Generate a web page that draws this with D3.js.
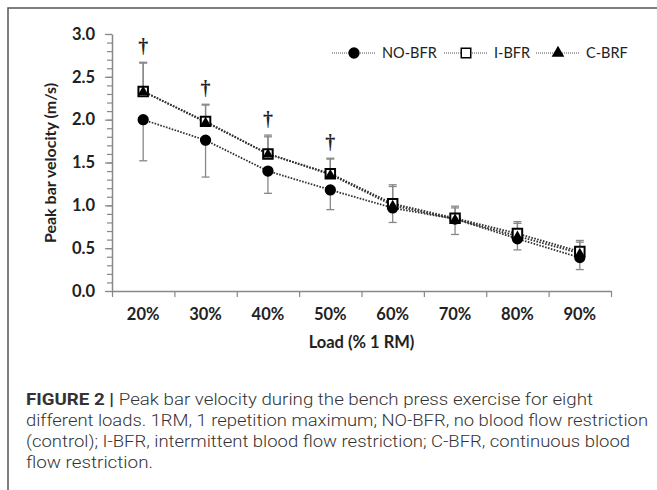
<!DOCTYPE html>
<html>
<head>
<meta charset="utf-8">
<script src="https://cdn.jsdelivr.net/npm/d3@7"></script>
<style>
  body { margin: 0; background: #fff; }
  .tick text { font-family: Lato, "Open Sans", sans-serif; font-weight: 700; font-size: 16.5px; fill: #222; }
</style>
</head>
<body>
<script>
//data
var loads = ["20%", "30%", "40%", "50%", "60%", "70%", "80%", "90%"];
var noBfr = [2.00, 1.76, 1.40, 1.18, 0.97, 0.84, 0.61, 0.39];
var noBfrLow = [1.52, 1.33, 1.14, 0.95, 0.80, 0.66, 0.48, 0.25]; //mean - SD
var iBfr = [2.33, 1.98, 1.60, 1.37, 1.02, 0.85, 0.67, 0.46];
var iBfrHigh = [2.67, 2.18, 1.82, 1.55, 1.24, 0.99, 0.81, 0.59]; //mean + SD
var cBrf = [2.33, 1.97, 1.60, 1.36, 1.00, 0.84, 0.64, 0.44];
var cBrfHigh = [2.66, 2.17, 1.80, 1.54, 1.22, 0.97, 0.79, 0.57];
var dagger = [true, true, true, true, false, false, false, false];
var yMajor = [0, 0.5, 1.0, 1.5, 2.0, 2.5, 3.0];
var seriesNames = ["NO-BFR", "I-BFR", "C-BRF"];

var w = 657, h = 490;

var svg = d3.select("body")
    .append("svg")
    .attr("width", w)
    .attr("height", h);

//frame (top and left edges only)
svg.append("path")
    .attr("d", "M8,490V8H657")
    .attr("fill", "none")
    .attr("stroke", "#555")
    .attr("stroke-width", 1.5);

var x = d3.scaleBand()
    .domain(loads)
    .range([112, 611]);

var xEdge = d3.scaleLinear()
    .domain([0, loads.length])
    .range([112, 611]);

var y = d3.scaleLinear()
    .domain([0, 3])
    .range([291, 34]);

var cx = function(i){ return x(loads[i]) + x.bandwidth() / 2; };

//minor y ticks
svg.append("g")
    .attr("class", "minor")
    .attr("transform", "translate(112,0)")
    .call(d3.axisLeft(y).tickValues(d3.range(0, 31).map(function(d){ return d / 10; })).tickSize(5).tickFormat(""))
    .call(function(g){ g.select(".domain").remove(); })
    .selectAll("line").attr("stroke", "#888").attr("stroke-width", 1.2);

//major y axis
svg.append("g")
    .attr("transform", "translate(112,0)")
    .call(d3.axisLeft(y).tickValues(yMajor).tickFormat(d3.format(".1f")).tickSize(7).tickPadding(10).tickSizeOuter(0))
    .call(function(g){
        g.select(".domain").attr("stroke", "#888").attr("stroke-width", 1.5);
        g.selectAll("line").attr("stroke", "#888").attr("stroke-width", 1.2);
    });

//x axis: edge ticks
svg.append("g")
    .attr("transform", "translate(0,291)")
    .call(d3.axisBottom(xEdge).ticks(loads.length).tickSize(6).tickFormat("").tickSizeOuter(0))
    .call(function(g){
        g.select(".domain").attr("stroke", "#888").attr("stroke-width", 1.5);
        g.selectAll("line").attr("stroke", "#888").attr("stroke-width", 1.2);
    });

//x labels
svg.append("g")
    .attr("transform", "translate(0,291)")
    .call(d3.axisBottom(x).tickSize(0).tickPadding(17))
    .call(function(g){ g.select(".domain").remove(); });

//axis titles
svg.append("text")
    .attr("x", 361.5)
    .attr("y", 348)
    .attr("text-anchor", "middle")
    .style("font-family", "Lato, sans-serif")
    .style("font-weight", 700)
    .style("font-size", "16.5px")
    .style("fill", "#222")
    .text("Load (% 1 RM)");

svg.append("text")
    .attr("transform", "translate(56,163) rotate(-90)")
    .attr("text-anchor", "middle")
    .style("font-family", "Lato, sans-serif")
    .style("font-weight", 700)
    .style("font-size", "16px")
    .style("fill", "#222")
    .text("Peak bar velocity (m/s)");

//error bars
function errorBars(mean, end){
    var g = svg.append("g")
        .attr("stroke", "#888")
        .attr("stroke-width", 1.3);
    mean.forEach(function(m, i){
        g.append("line")
            .attr("x1", cx(i)).attr("x2", cx(i))
            .attr("y1", y(m)).attr("y2", y(end[i]));
        g.append("line")
            .attr("x1", cx(i) - 4).attr("x2", cx(i) + 4)
            .attr("y1", y(end[i])).attr("y2", y(end[i]));
    });
}
errorBars(noBfr, noBfrLow);
errorBars(iBfr, iBfrHigh);
errorBars(cBrf, cBrfHigh);

//dotted lines
var line = d3.line()
    .x(function(d, i){ return cx(i); })
    .y(function(d){ return y(d); });

[noBfr, iBfr, cBrf].forEach(function(s){
    svg.append("path")
        .datum(s)
        .attr("d", line)
        .attr("fill", "none")
        .attr("stroke", "#333")
        .attr("stroke-width", 1.8)
        .attr("stroke-dasharray", "1.6,1.4");
});

//markers
var sym = {
    circle: d3.symbol().type(d3.symbolCircle).size(100),
    square: d3.symbol().type(d3.symbolSquare).size(90),
    triangle: d3.symbol().type(d3.symbolTriangle).size(48)
};

svg.selectAll(".noMark")
    .data(noBfr)
    .enter()
    .append("path")
    .attr("class", "noMark")
    .attr("transform", function(d, i){ return "translate(" + cx(i) + "," + y(d) + ")"; })
    .attr("d", sym.circle)
    .attr("fill", "#000");

svg.selectAll(".iMark")
    .data(iBfr)
    .enter()
    .append("path")
    .attr("class", "iMark")
    .attr("transform", function(d, i){ return "translate(" + cx(i) + "," + y(d) + ")"; })
    .attr("d", sym.square)
    .attr("fill", "#fff")
    .attr("stroke", "#000")
    .attr("stroke-width", 2);

svg.selectAll(".cMark")
    .data(cBrf)
    .enter()
    .append("path")
    .attr("class", "cMark")
    .attr("transform", function(d, i){ return "translate(" + cx(i) + "," + (y(d) + 0.5) + ")"; })
    .attr("d", sym.triangle)
    .attr("fill", "#000");

//significance daggers
svg.selectAll(".dagger")
    .data(iBfrHigh)
    .enter()
    .filter(function(d, i){ return dagger[i]; })
    .append("text")
    .attr("class", "dagger")
    .attr("x", function(d){ return cx(iBfrHigh.indexOf(d)); })
    .attr("y", function(d){ return y(d) - 9; })
    .attr("text-anchor", "middle")
    .style("font-family", "Liberation Serif, serif")
    .style("font-weight", 700)
    .style("font-size", "20px")
    .style("fill", "#222")
    .text("\u2020");

//legend
var legendX = [332, 444, 536];
var legend = svg.selectAll(".legend")
    .data(seriesNames)
    .enter()
    .append("g")
    .attr("class", "legend")
    .attr("transform", function(d, i){ return "translate(" + legendX[i] + ",53)"; });

legend.append("line")
    .attr("x1", 0).attr("x2", 44)
    .attr("stroke", "#555")
    .attr("stroke-width", 1)
    .attr("stroke-dasharray", "1,1");

legend.append("path")
    .attr("transform", "translate(22,0)")
    .attr("d", function(d, i){ return i === 0 ? sym.circle() : i === 1 ? sym.square() : d3.symbol().type(d3.symbolTriangle).size(70)(); })
    .attr("fill", function(d, i){ return i === 1 ? "#fff" : "#000"; })
    .attr("stroke", function(d, i){ return i === 1 ? "#000" : "none"; })
    .attr("stroke-width", 1.5);

legend.append("text")
    .attr("x", 50)
    .attr("y", 5)
    .style("font-family", "Lato, sans-serif")
    .style("font-size", "14.5px")
    .style("fill", "#222")
    .text(function(d){ return d; });

//caption
var caption = [
    {bold: "FIGURE 2 | ", text: "Peak bar velocity during the bench press exercise for eight", len: 567},
    {bold: "", text: "different loads. 1RM, 1 repetition maximum; NO-BFR, no blood flow restriction", len: 622},
    {bold: "", text: "(control); I-BFR, intermittent blood flow restriction; C-BFR, continuous blood", len: 604},
    {bold: "", text: "flow restriction.", len: 127}
];

var cap = svg.selectAll(".caption")
    .data(caption)
    .enter()
    .append("text")
    .attr("class", "caption")
    .attr("x", 26)
    .attr("y", function(d, i){ return 405 + i * 21; })
    .attr("textLength", function(d){ return d.len; })
    .attr("lengthAdjust", "spacingAndGlyphs")
    .style("font-family", "Roboto, sans-serif")
    .style("font-size", "16px")
    .style("fill", "#333");

cap.append("tspan")
    .style("font-weight", 700)
    .text(function(d){ return d.bold; });

cap.append("tspan")
    .style("font-weight", 300)
    .text(function(d){ return d.text; });
</script>
</body>
</html>
